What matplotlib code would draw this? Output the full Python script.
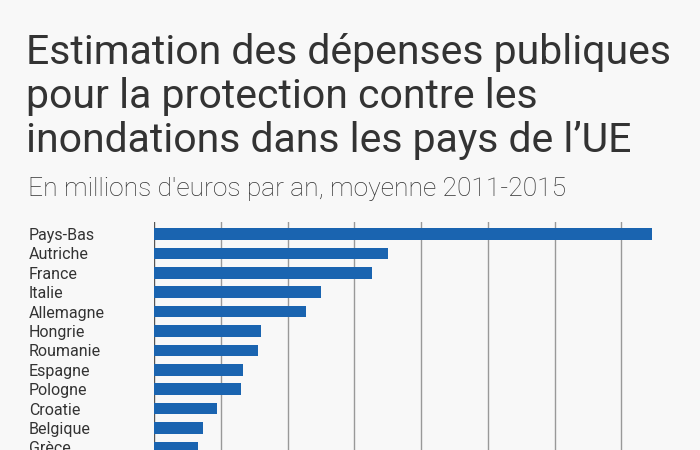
import matplotlib
matplotlib.use("Agg")
import matplotlib.pyplot as plt

countries = ["Pays-Bas", "Autriche", "France", "Italie", "Allemagne", "Hongrie",
             "Roumanie", "Espagne", "Pologne", "Croatie", "Belgique", "Grèce"]
spending = [746, 351, 326, 250, 228, 160, 156, 134, 131, 94, 73, 66]
grid_ticks = [0, 100, 200, 300, 400, 500, 600, 700]

title_lines = ["Estimation des dépenses publiques",
               "pour la protection contre les",
               "inondations dans les pays de l\u2019UE"]
subtitle = "En millions d'euros par an, moyenne 2011-2015"

bg = "#f8f8f8"
bar_color = "#1a64b0"
text_color = "#333333"

plt.rcParams["font.family"] = ["Roboto", "DejaVu Sans"]

fig = plt.figure(figsize=(7, 4.5), dpi=100)
fig.patch.set_facecolor(bg)

# axes runs past the bottom edge on purpose: the reference is cut off there
ax = fig.add_axes([154 / 700, 1 - 476.5 / 450, 534 / 700, 254.5 / 450])
ax.set_facecolor(bg)

ypos = list(range(len(countries)))
ax.barh(ypos, spending, height=0.59, color=bar_color, zorder=3)
ax.set_xlim(0, 800)
ax.set_ylim(12.5, -0.62)

for t in grid_ticks:
    ax.axvline(t, color="#555555" if t == 0 else "#999999", lw=1.0, zorder=1)

ax.set_xticks([])
ax.set_yticks(ypos)
ax.set_yticklabels(countries, fontsize=11.5, color=text_color)
ax.tick_params(axis="y", length=0, pad=0)
for lbl in ax.get_yticklabels():
    lbl.set_horizontalalignment("left")
    lbl.set_x(-125 / 534)
for s in ax.spines.values():
    s.set_visible(False)

for i, line in enumerate(title_lines):
    fig.text(26 / 700, 1 - (64 + 44 * i) / 450, line, fontsize=29.5,
             color=text_color, va="baseline", ha="left")
fig.text(28 / 700, 1 - 196 / 450, subtitle, fontsize=19, color=text_color,
         va="baseline", ha="left", fontweight="light")

fig.savefig("out.png", dpi=100, facecolor=bg)
